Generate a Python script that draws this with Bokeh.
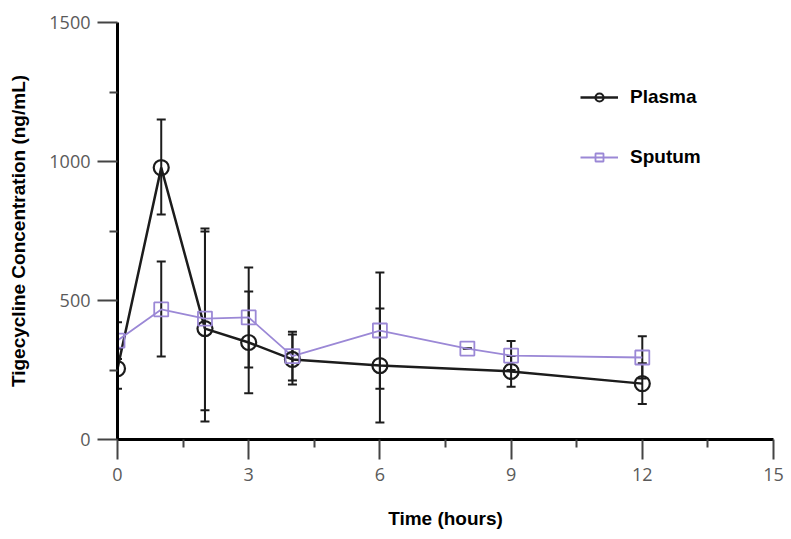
from bokeh.plotting import figure
from bokeh.models import (Range1d, FixedTicker, ColumnDataSource, Whisker, TeeHead,
                          Legend, LegendItem)
from bokeh.embed import file_html
from bokeh.resources import INLINE

# ---- data ----
time_plasma = [0, 1, 2, 3, 4, 6, 9, 12]
plasma = [255, 978, 399, 349, 288, 266, 245, 201]
plasma_upper = [327, 1151, 748, 532, 378, 471, 300, 274]
plasma_lower = [183, 809, 65, 166, 198, 61, 190, 128]

time_sputum = [0, 1, 2, 3, 4, 6, 8, 9, 12]
sputum = [356, 468, 435, 439, 300, 392, 327, 302, 295]
sputum_upper = [422, 640, 759, 619, 388, 601, 327, 354, 371]
sputum_lower = [290, 299, 105, 259, 212, 183, 327, 250, 219]

x_ticks = [0, 3, 6, 9, 12, 15]
x_minor = [1.5, 4.5, 7.5, 10.5, 13.5]
y_ticks = [0, 500, 1000, 1500]
y_minor = [250, 750, 1250]

PURPLE = "#9b88d6"
DARK = "#1c1c1c"

p = figure(width=785, height=535, output_backend="svg", toolbar_location=None,
           x_range=Range1d(0, 15), y_range=Range1d(0, 1500),
           min_border_left=117, min_border_right=12, min_border_top=22,
           min_border_bottom=96)
p.outline_line_color = None
p.xgrid.visible = False
p.ygrid.visible = False

src_p = ColumnDataSource(dict(x=time_plasma, y=plasma, up=plasma_upper, lo=plasma_lower))
src_s = ColumnDataSource(dict(x=time_sputum, y=sputum, up=sputum_upper, lo=sputum_lower))

lp = p.line("x", "y", source=src_p, line_color=DARK, line_width=2.5)
ls = p.line("x", "y", source=src_s, line_color=PURPLE, line_width=1.8)
mp = p.scatter("x", "y", source=src_p, marker="circle", size=15, fill_color=None,
               line_color=DARK, line_width=2.2)
ms = p.scatter("x", "y", source=src_s, marker="square", size=14, fill_color=None,
               line_color=PURPLE, line_width=1.8)

for src in (src_p, src_s):
    w = Whisker(source=src, base="x", upper="up", lower="lo", dimension="height",
                line_color=DARK, line_width=2,
                upper_head=TeeHead(size=9, line_color=DARK, line_width=2),
                lower_head=TeeHead(size=9, line_color=DARK, line_width=2))
    p.add_layout(w)

# axes
for ax in (p.xaxis[0], p.yaxis[0]):
    ax.axis_line_width = 3
    ax.axis_line_color = "black"
    ax.major_tick_line_color = "#444444"
    ax.minor_tick_line_color = "#444444"
    ax.major_tick_line_width = 2
    ax.minor_tick_line_width = 2
    ax.major_tick_in = 0
    ax.major_tick_out = 20
    ax.minor_tick_in = 0
    ax.minor_tick_out = 8
    ax.major_label_text_font = "Open Sans"
    ax.major_label_text_font_size = "18px"
    ax.major_label_text_color = "#5a5a5a"
    ax.axis_label_text_font = "Liberation Sans"
    ax.axis_label_text_font_style = "bold"
    ax.axis_label_text_font_size = "19px"
    ax.axis_label_text_color = "black"

p.xaxis.ticker = FixedTicker(ticks=x_ticks, minor_ticks=x_minor)
p.yaxis.ticker = FixedTicker(ticks=y_ticks, minor_ticks=y_minor)
p.xaxis.axis_label = "Time (hours)"
p.yaxis.axis_label = "Tigecycline Concentration (ng/mL)"
p.xaxis.major_label_standoff = 8
p.yaxis.major_label_standoff = 7
p.xaxis.axis_label_standoff = 24
p.yaxis.axis_label_standoff = 17

legend = Legend(items=[LegendItem(label="Plasma", renderers=[lp, mp]),
                       LegendItem(label="Sputum", renderers=[ls, ms])],
                location=(463, 271), border_line_color=None,
                background_fill_alpha=0, padding=0, margin=0,
                glyph_width=38, glyph_height=20, label_height=20,
                spacing=38, label_standoff=12,
                label_text_font="Liberation Sans", label_text_font_style="bold",
                label_text_font_size="19px", label_text_color="black")
p.add_layout(legend, "center")

open("out.html", "w").write(file_html(p, INLINE))
